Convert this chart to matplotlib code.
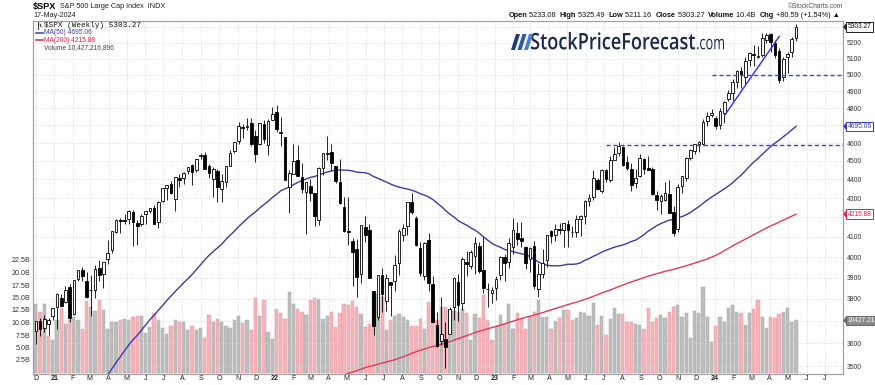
import numpy as np
import pandas as pd
import matplotlib
matplotlib.use('Agg')
import matplotlib.pyplot as plt
import matplotlib.dates as mdates
import matplotlib.transforms as mtransforms
from matplotlib.textpath import TextPath
from matplotlib.font_manager import FontProperties
from matplotlib.patches import PathPatch, Polygon
from matplotlib.lines import Line2D
from matplotlib.ticker import NullLocator, FixedLocator, FixedFormatter

# ---------------- data (weekly $SPX, week ending Friday) ----------------
first_week = '2020-12-04'
n_weeks = 181

week_open = [
    3653, 3699, 3666, 3684, 3723,
    3764, 3803, 3788, 3855, 3731, 3892, 3939, 3885, 3842, 3844, 3949, 3916, 3992, 4034, 4124, 4186,
    4185, 4192, 4228, 4169, 4168, 4216, 4230, 4248, 4174, 4284, 4352, 4373, 4296, 4409, 4407, 4443,
    4477, 4450, 4529, 4532, 4474, 4402, 4443, 4348, 4386, 4474, 4553, 4610, 4689, 4689, 4712, 4640,
    4592, 4710, 4587, 4733,
    4778, 4655, 4632, 4357, 4431, 4506, 4412, 4332, 4363, 4327, 4188, 4462, 4541, 4547, 4474, 4385,
    4255, 4130, 4081, 4041, 3919, 4151, 4134, 3838, 3715, 3913, 3792, 3880, 3883, 3972, 4112, 4155,
    4281, 4195, 4043, 3909, 4084, 3872, 3682, 3609, 3618, 3638, 3764, 3882, 3780, 3978, 3956, 4005,
    4053, 3939, 3845, 3829,
    3853, 3911, 3999, 3978, 4049, 4120, 4096, 4052, 3992, 4055, 3845, 3917, 3984, 4130, 4110, 4140,
    4134, 4166, 4126, 4126, 4190, 4205, 4282, 4308, 4397, 4337, 4450, 4398, 4507, 4543, 4578, 4492,
    4458, 4380, 4416, 4510, 4462, 4454, 4316, 4284, 4289, 4320, 4226, 4140, 4365, 4406, 4514, 4555,
    4594, 4593, 4725, 4759,
    4745, 4703, 4772, 4853, 4892, 4957, 5026, 4989, 5093, 5132, 5111, 5123, 5219, 5258, 5203, 5150,
    4988, 5114, 5142, 5233.08]

week_high = [
    3699, 3712, 3726, 3711, 3760,
    3826, 3824, 3861, 3871, 3887, 3937, 3950, 3928, 3914, 3960, 3984, 3978, 4083, 4129, 4191, 4195,
    4219, 4238, 4236, 4188, 4219, 4234, 4249, 4261, 4286, 4356, 4372, 4393, 4415, 4429, 4440, 4468,
    4482, 4513, 4546, 4549, 4486, 4465, 4457, 4429, 4475, 4560, 4608, 4718, 4708, 4744, 4744, 4672,
    4713, 4731, 4740, 4809,
    4819, 4749, 4632, 4453, 4595, 4589, 4490, 4386, 4401, 4327, 4465, 4546, 4637, 4593, 4475, 4512,
    4308, 4308, 4094, 4090, 4158, 4204, 4168, 3838, 3913, 3946, 3918, 3880, 4012, 4140, 4167, 4281,
    4325, 4204, 4073, 4076, 4119, 3908, 3741, 3807, 3693, 3762, 3905, 3918, 4001, 4029, 4034, 4101,
    4076, 4101, 3876, 3858,
    3906, 4003, 4015, 4094, 4195, 4176, 4175, 4053, 4048, 4079, 3973, 4039, 4110, 4133, 4163, 4170,
    4170, 4186, 4154, 4212, 4212, 4290, 4322, 4448, 4408, 4458, 4456, 4527, 4578, 4607, 4584, 4527,
    4491, 4458, 4541, 4514, 4527, 4465, 4338, 4319, 4385, 4394, 4256, 4374, 4418, 4521, 4569, 4594,
    4609, 4738, 4778, 4793,
    4755, 4802, 4843, 4907, 4975, 5030, 5048, 5111, 5140, 5190, 5179, 5261, 5264, 5264, 5222, 5168,
    5114, 5146, 5239, 5325.49]

week_low = [
    3594, 3633, 3647, 3636, 3703,
    3663, 3765, 3780, 3694, 3725, 3885, 3884, 3805, 3723, 3804, 3885, 3853, 3964, 4020, 4118, 4118,
    4165, 4168, 4057, 4061, 4154, 4167, 4220, 4164, 4145, 4280, 4289, 4321, 4233, 4360, 4374, 4431,
    4367, 4442, 4513, 4457, 4406, 4305, 4279, 4279, 4360, 4473, 4546, 4595, 4630, 4672, 4585, 4495,
    4591, 4600, 4531, 4733,
    4662, 4582, 4395, 4223, 4431, 4418, 4327, 4115, 4285, 4157, 4161, 4424, 4507, 4450, 4381, 4267,
    4124, 4062, 3859, 3810, 3876, 4074, 3900, 3637, 3705, 3738, 3743, 3722, 3838, 3913, 4080, 4112,
    4218, 4057, 3906, 3887, 3838, 3694, 3584, 3592, 3492, 3639, 3704, 3698, 3751, 3906, 3944, 3919,
    3923, 3827, 3764, 3783,
    3794, 3888, 3885, 3949, 4015, 4060, 4048, 3943, 3928, 3847, 3808, 3899, 3951, 4069, 4080, 4114,
    4049, 4048, 4099, 4099, 4103, 4166, 4260, 4289, 4341, 4328, 4385, 4388, 4507, 4528, 4474, 4448,
    4335, 4356, 4411, 4431, 4448, 4316, 4238, 4216, 4283, 4223, 4104, 4127, 4329, 4393, 4505, 4537,
    4547, 4590, 4697, 4751,
    4682, 4682, 4714, 4845, 4845, 4918, 4920, 4946, 5056, 5057, 5104, 5114, 5203, 5146, 5107, 4953,
    4963, 5011, 5114, 5211.16]

week_close = [
    3699.12, 3663.46, 3709.41, 3703.06, 3756.07,
    3824.68, 3768.25, 3841.47, 3714.24, 3886.83, 3934.83, 3906.71, 3811.15, 3841.94, 3943.34,
    3913.10, 3974.54, 4019.87, 4128.80, 4185.47, 4180.17, 4181.17, 4232.60, 4173.85, 4155.86,
    4204.11, 4229.89, 4247.44, 4166.45, 4280.70, 4352.34, 4369.55, 4327.16, 4411.79, 4395.26,
    4436.52, 4468.00, 4441.67, 4509.37, 4535.43, 4458.58, 4432.99, 4455.48, 4357.04, 4391.34,
    4471.37, 4544.90, 4605.38, 4697.53, 4682.85, 4697.96, 4594.62, 4538.43, 4712.02, 4620.64,
    4725.79, 4766.18,
    4677.03, 4662.85, 4397.94, 4431.85, 4500.53, 4418.64, 4348.87, 4384.65, 4328.87, 4204.31,
    4463.12, 4543.06, 4545.86, 4488.28, 4392.59, 4271.78, 4131.93, 4123.34, 4023.89, 3901.36,
    4158.24, 4108.54, 3900.86, 3674.84, 3911.74, 3825.33, 3899.38, 3863.16, 3961.63, 4130.29,
    4145.19, 4280.15, 4228.48, 4057.66, 3924.26, 4067.36, 3873.33, 3693.23, 3585.62, 3639.66,
    3583.07, 3752.75, 3901.06, 3770.55, 3992.93, 3965.34, 4026.12, 4071.70, 3934.38, 3852.36,
    3844.82, 3839.50,
    3895.08, 3999.09, 3972.61, 4070.56, 4136.48, 4090.46, 4079.09, 3970.04, 4045.64, 3861.59,
    3916.64, 3970.99, 4109.31, 4105.02, 4137.64, 4133.52, 4169.48, 4136.25, 4124.08, 4191.98,
    4205.45, 4282.37, 4298.86, 4409.59, 4348.33, 4450.38, 4398.95, 4505.42, 4536.34, 4582.23,
    4478.03, 4464.05, 4369.71, 4405.71, 4515.77, 4457.49, 4450.32, 4320.06, 4288.05, 4308.50,
    4327.78, 4224.16, 4117.37, 4358.34, 4415.24, 4514.02, 4559.34, 4594.63, 4604.37, 4719.19,
    4754.63, 4769.83,
    4697.24, 4783.83, 4839.81, 4890.97, 4958.61, 5026.61, 5005.57, 5088.80, 5137.08, 5123.69,
    5117.09, 5234.18, 5254.35, 5204.34, 5123.41, 4967.23, 5099.96, 5127.79, 5222.68, 5303.27]

# weekly volume, billions
week_volume = [
    13.7, 12.2, 13.7, 7.4, 6.5,
    10.5, 12.9, 9.8, 10.5, 11.2, 10.5, 8.8, 14.4, 13.2, 12.3, 14.5, 12.5, 8.8, 10.2, 10.2, 10.6,
    10.8, 10.6, 11.2, 11.3, 11.3, 7.9, 9.2, 12.0, 10.6, 9.0, 7.7, 9.3, 10.6, 10.2, 10.2, 8.5,
    9.4, 8.5, 9.0, 7.0, 11.6, 10.2, 10.8, 10.2, 9.4, 9.0, 10.5, 11.3, 10.0, 10.5, 8.6, 15.0,
    11.3, 14.5, 8.2, 6.8,
    12.7, 12.0, 10.8, 16.2, 13.8, 12.7, 12.2, 11.5, 14.6, 15.0, 14.8, 10.8, 11.3, 12.2, 9.2, 12.0,
    13.7, 13.6, 14.4, 13.2, 11.7, 9.2, 9.8, 16.2, 15.8, 15.2, 8.6, 10.5, 11.3, 11.7, 11.2, 10.5,
    9.3, 9.3, 10.8, 8.8, 14.2, 13.3, 10.6, 13.2, 13.1, 12.5, 12.4, 12.2, 12.8, 12.0, 6.6, 11.8,
    11.0, 15.5, 10.5, 6.6,
    9.3, 11.6, 9.8, 13.7, 8.8, 12.0, 10.8, 8.8, 11.2, 12.2, 14.6, 11.2, 11.2, 8.8, 10.4, 11.0,
    12.6, 12.6, 10.6, 11.0, 12.2, 12.0, 11.3, 13.9, 9.5, 11.3, 7.5, 10.8, 13.0, 11.7, 11.7, 10.2,
    10.2, 9.8, 9.5, 8.7, 12.9, 10.2, 10.9, 11.6, 10.9, 12.2, 13.2, 13.6, 11.2, 11.9, 6.9, 12.4,
    11.9, 17.2, 11.1, 6.2,
    9.4, 11.1, 10.2, 12.9, 13.6, 12.2, 11.9, 9.6, 11.9, 12.8, 14.6, 11.2, 8.9, 11.1, 10.9, 11.8,
    12.2, 12.9, 10.2, 10.43]

# weekly closes before the visible window (Jun 2018 - Nov 2020), used for the moving averages
prior_close = [
    2734.62, 2779.03, 2779.42, 2754.88, 2718.37, 2759.82, 2801.31, 2801.83, 2818.82, 2840.35,
    2833.28, 2850.13, 2874.69, 2901.52, 2871.68, 2904.98, 2929.67, 2913.98, 2885.57, 2767.13,
    2767.78, 2658.69, 2723.06, 2781.01, 2736.27, 2632.56, 2760.17, 2633.08, 2599.95, 2416.62,
    2485.74,
    2531.94, 2596.26, 2670.71, 2664.76, 2706.53, 2707.88, 2775.60, 2792.67, 2803.69, 2743.07,
    2822.48, 2800.71, 2834.40, 2892.74, 2907.41, 2905.03, 2939.88, 2945.64, 2881.40, 2859.53,
    2826.06, 2752.06, 2873.34, 2886.98, 2950.46, 2941.76, 2990.41, 3013.77, 2976.61, 3025.86,
    2932.05, 2918.65, 2888.68, 2847.11, 2926.46, 2978.71, 3007.39, 2992.07, 2961.79, 2952.01,
    2970.27, 2986.20, 3022.55, 3066.91, 3093.08, 3120.46, 3110.29, 3140.98, 3145.91, 3168.80,
    3221.22, 3240.02,
    3234.85, 3265.35, 3329.62, 3295.47, 3225.52, 3327.71, 3380.16, 3337.75, 2954.22, 2972.37,
    2711.02, 2304.92, 2541.47, 2488.65, 2789.82, 2874.56, 2836.74, 2830.71, 2929.80, 2863.70,
    2955.45, 3044.31, 3193.93, 3041.31, 3097.74, 3009.05, 3130.01, 3185.04, 3224.73, 3215.63,
    3271.12, 3351.28, 3372.85, 3397.16, 3508.01, 3426.96, 3340.97, 3319.47, 3298.46, 3348.42,
    3477.13, 3483.81, 3465.39, 3269.96, 3509.44, 3585.15, 3557.54, 3638.35]

ma_fast, ma_slow = 50, 200
ma50_label, ma200_label = 4695.06, 4215.88
last_close, last_volume = 5303.27, 10427216896

# annotation levels drawn on the chart
support_1, support_1_start = 5000, '2023-12-27'
support_2, support_2_start = 4590, '2023-07-04'
trend_start, trend_end = ('2024-01-18', 4763), ('2024-04-17', 5243)

# ---------------- figure ----------------
W, H = 875, 385
plt.rcParams['font.family'] = ['Liberation Sans', 'DejaVu Sans']
fig = plt.figure(figsize=(W / 100, H / 100), dpi=100)
fig.patch.set_facecolor('white')


def fx(px):
    return px / W


def fy(py):
    return 1 - py / H


L, R, T, B = 33, 843, 20.7, 374
ax_v = fig.add_axes([fx(L), fy(B), (R - L) / W, (B - T) / H])
ax_p = ax_v.twinx()
ax_v.set_zorder(1)
ax_p.set_zorder(2)
ax_p.patch.set_visible(False)

o = np.array(week_open, float)
h = np.array(week_high, float)
lo = np.array(week_low, float)
c = np.array(week_close, float)
v = np.array(week_volume, float)
fridays = pd.date_range(first_week, periods=n_weeks, freq='W-FRI')
x = mdates.date2num(fridays) - 2.5

allc = pd.Series(list(prior_close) + list(week_close))
ma50 = allc.rolling(ma_fast).mean().values[-n_weeks:]
ma200 = allc.rolling(ma_slow).mean().values[-n_weeks:]

x_left = mdates.date2num(pd.Timestamp('2020-11-26 19:00'))
x_right = mdates.date2num(pd.Timestamp('2024-07-31 10:00'))
ax_v.set_xlim(x_left, x_right)

# price axis (log)
p_top, p_bot = 5344, 3466
ax_p.set_yscale('log')
ax_p.set_ylim(p_bot, p_top)
# volume axis
ax_v.set_ylim(-0.3, 70.36)

# grid
grid_kw = dict(color='#d4d4d4', lw=0.6, linestyle=(0, (1, 1.6)))
months = pd.date_range('2020-12-01', '2024-07-01', freq='MS')
for m in months:
    ax_v.axvline(mdates.date2num(m), zorder=0, **grid_kw)
price_ticks = list(range(3500, 5301, 100))
for p in price_ticks:
    ax_p.axhline(p, zorder=0.5, **grid_kw)

# volume bars
prev = np.r_[prior_close[-1], c[:-1]]
down = c < prev
vcol = np.where(down, '#f3b5ba', '#bdbdbd')
vedge = np.where(down, '#e596a0', '#a9a9a9')
ax_v.bar(x, v, width=5.4, color=vcol, edgecolor=vedge, linewidth=0.35, zorder=2)

# moving averages
ax_p.plot(x, ma50, color='#3b3ba6', lw=1.0, zorder=3)
ax_p.plot(x, ma200, color='#e23a5c', lw=1.0, zorder=3)

# candles
ax_p.vlines(x, lo, h, color='black', lw=0.6, zorder=4)
up = c >= o
bb = np.minimum(o, c)
bh = np.maximum(np.abs(c - o), 2.0)
ax_p.bar(x[up], bh[up], bottom=bb[up], width=4.4, color='white', edgecolor='black',
         linewidth=0.6, zorder=5)
ax_p.bar(x[~up], bh[~up], bottom=bb[~up], width=4.4, color='black', edgecolor='black',
         linewidth=0.6, zorder=5)

# annotations
dash_kw = dict(color='#3c3cff', lw=1.0, linestyle=(0, (3, 2)), zorder=6)
ax_p.plot([mdates.date2num(pd.Timestamp(support_1_start)), x_right], [support_1, support_1], **dash_kw)
ax_p.plot([mdates.date2num(pd.Timestamp(support_2_start)), x_right], [support_2, support_2], **dash_kw)
ax_p.plot([mdates.date2num(pd.Timestamp(trend_start[0])), mdates.date2num(pd.Timestamp(trend_end[0]))],
          [trend_start[1], trend_end[1]], color='#2a2aff', lw=1.0, zorder=6)

# axes styling
for a in (ax_v, ax_p):
    for s in a.spines.values():
        s.set_color('#a0a0a0')
        s.set_linewidth(0.8)
    a.tick_params(length=0)
ax_v.set_xticks([])
ax_p.yaxis.set_minor_locator(NullLocator())
hidden = {3700, 4200, 4700, 5300}
ax_p.yaxis.set_major_locator(FixedLocator(price_ticks))
ax_p.yaxis.set_major_formatter(FixedFormatter(['' if p in hidden else str(p) for p in price_ticks]))
ax_p.tick_params(axis='y', labelsize=4.9, pad=3, labelcolor='#333333')
vol_ticks = [2.5, 5.0, 7.5, 10.0, 12.5, 15.0, 17.5, 20.0, 22.5]
ax_v.set_yticks(vol_ticks)
ax_v.set_yticklabels([f'{t:.1f}B' for t in vol_ticks])
ax_v.tick_params(axis='y', labelsize=5.1, pad=2, labelcolor='#333333')

# month labels
trans_lab = mtransforms.blended_transform_factory(ax_v.transData, fig.transFigure)
for m in months:
    if m.month == 1:
        lab, wt = m.strftime('%y'), 'bold'
    else:
        lab, wt = m.strftime('%b')[0], 'normal'
    ax_v.text(mdates.date2num(m), fy(378.5), lab, transform=trans_lab, ha='center', va='center',
              fontsize=5.1, fontweight=wt, color='#222222', clip_on=False)

# ---------------- header ----------------
fig.text(fx(33), fy(6.5), '$SPX', fontsize=6.6, fontweight='bold', va='center', ha='left')
fig.text(fx(60), fy(6.8), 'S&P 500 Large Cap Index  INDX', fontsize=5.2, va='center', ha='left',
         color='#222222')
fig.text(fx(33), fy(15.7), '17-May-2024', fontsize=5.2, va='center', ha='left', color='#222222')
fig.text(fx(843), fy(6), '\u00a9StockCharts.com', fontsize=4.8, va='center', ha='right', color='#555555')

renderer = fig.canvas.get_renderer()
pieces = [('Open', 'bold'), (' 5233.08  ', 'normal'), ('High', 'bold'), (' 5325.49  ', 'normal'),
          ('Low', 'bold'), (' 5211.16  ', 'normal'), ('Close', 'bold'), (' 5303.27  ', 'normal'),
          ('Volume', 'bold'), (' 10.4B  ', 'normal'), ('Chg', 'bold'), (' +80.59 (+1.54%) \u25b2', 'normal')]
xr = 840.0
for s, wt in reversed(pieces):
    t = fig.text(fx(xr), fy(15.7), s, fontsize=5.3, fontweight=wt, va='center', ha='right',
                 color='#111111')
    w = t.get_window_extent(renderer).width
    xr -= w

# legend inside plot
fig.text(fx(44), fy(25.2), '$SPX (Weekly) 5303.27', fontsize=5.5, family=['Liberation Mono', 'DejaVu Sans Mono'],
         va='center', ha='left', color='#111111')
fig.add_artist(Line2D([fx(37.5), fx(37.5)], [fy(22), fy(28.5)], color='black', lw=0.6))
fig.add_artist(Polygon([[fx(36.3), fy(23.5)], [fx(38.7), fy(23.5)], [fx(38.7), fy(27)], [fx(36.3), fy(27)]],
                       closed=True, fc='black', ec='black', lw=0.4))
fig.add_artist(Line2D([fx(40), fx(41)], [fy(24), fy(26.5)], color='black', lw=0.6))
fig.text(fx(44), fy(32.6), f'MA(50) {ma50_label:.2f}', fontsize=4.8, va='center', ha='left', color='#3b3bb0')
fig.add_artist(Line2D([fx(35.5), fx(42.5)], [fy(32.6), fy(32.6)], color='#3b3bb0', lw=1.1))
fig.text(fx(44), fy(40.1), f'MA(200) {ma200_label:.2f}', fontsize=4.8, va='center', ha='left', color='#e2204f')
fig.add_artist(Line2D([fx(35.5), fx(42.5)], [fy(40.1), fy(40.1)], color='#e2204f', lw=1.1))
fig.text(fx(44), fy(47.6), f'Volume {last_volume:,}', fontsize=4.8, va='center', ha='left', color='#444444')
for i, hh in enumerate([3, 5, 2.5, 4]):
    x0 = 35.5 + i * 1.7
    fig.add_artist(Polygon([[fx(x0), fy(50)], [fx(x0 + 1.2), fy(50)], [fx(x0 + 1.2), fy(50 - hh)],
                            [fx(x0), fy(50 - hh)]], closed=True, fc='#555555', ec='none'))


# ---------------- right-hand tags ----------------
def tag(ypx, text, edge, fc, tc):
    fig.add_artist(Polygon([[fx(843.6), fy(ypx)], [fx(846.6), fy(ypx - 3.6)], [fx(846.6), fy(ypx + 3.6)]],
                           closed=True, fc=edge, ec=edge, lw=0.5, zorder=10))
    fig.text(fx(847.6), fy(ypx), text, fontsize=4.8, va='center', ha='left', color=tc, zorder=11,
             bbox=dict(boxstyle='square,pad=0.18', fc=fc, ec=edge, lw=0.7))


def price_to_px(p):
    return T + (B - T) * (np.log(p_top) - np.log(p)) / (np.log(p_top) - np.log(p_bot))


def vol_to_px(vv):
    return B - (B - T) * (vv + 0.3) / 70.66


tag(price_to_px(last_close), f'{last_close:.2f}', '#222222', 'white', '#111111')
tag(price_to_px(ma50_label), f'{ma50_label:.2f}', '#3b3bb0', 'white', '#3b3bb0')
tag(price_to_px(ma200_label), f'{ma200_label:.2f}', '#e2204f', 'white', '#e2204f')
tag(vol_to_px(last_volume / 1e9), f'{last_volume / 1e6:.2f}'[:-1] + '1', '#666666', '#8a8a8a', 'white')


# ---------------- watermark logo ----------------
def fit_text(s, x0, x1, ytop, ybot, color, family, weight):
    fp = FontProperties(family=family, weight=weight)
    tp = TextPath((0, 0), s, size=10, prop=fp)
    e = tp.get_extents()
    sx = (x1 - x0) / e.width
    sy = (ybot - ytop) / e.height
    tr = (mtransforms.Affine2D().translate(-e.x0, -e.y0).scale(sx / W, sy / H)
          .translate(x0 / W, 1 - ybot / H) + fig.transFigure)
    fig.add_artist(PathPatch(tp, transform=tr, fc=color, ec='none', zorder=20))


fit_text('StockPriceForecast', 531, 695, 32.0, 49.5, '#1c2a48', 'Open Sans', 'semibold')
fit_text('.com', 697, 724, 38.8, 49.5, '#1c2a48', 'Open Sans', 'normal')
for i, col in enumerate(['#1f3d7a', '#2d5aa8', '#4d7fd0']):
    x0 = 511 + i * 6.5
    fig.add_artist(Polygon([[fx(x0), fy(50)], [fx(x0 + 4), fy(50)], [fx(x0 + 9), fy(34)],
                            [fx(x0 + 5), fy(34)]], closed=True, fc=col, ec='none', zorder=20))

fig.savefig('out.png', dpi=100, facecolor='white')
